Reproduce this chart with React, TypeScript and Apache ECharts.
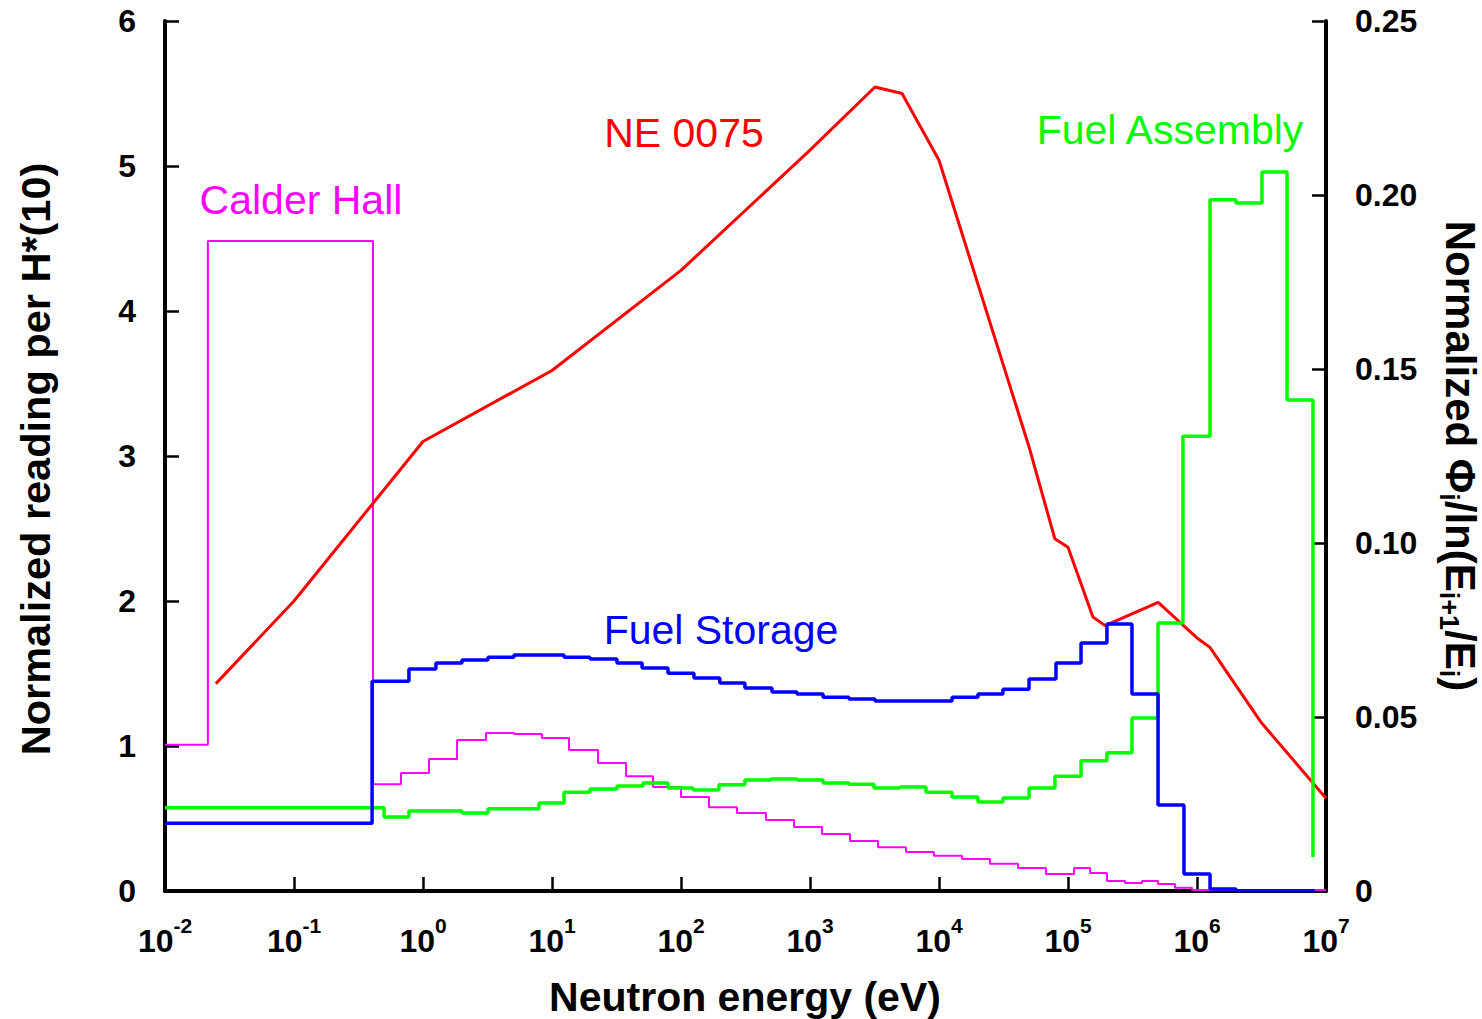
import React, { useEffect, useRef } from "react";
import * as echarts from "echarts";

const FONT = '"Liberation Sans", Arial, Helvetica, sans-serif';

// X axis: neutron energy (eV), log scale from 1e-2 to 1e7
const xMin = 0.01;
const xMax = 1e7;

// Left axis: Normalized reading per H*(10)
const leftTicks = { min: 0, max: 6, interval: 1 };
// Right axis: Normalized Phi_i / ln(E_i+1/E_i)
const rightTicks = { min: 0, max: 0.25, interval: 0.05 };

// NE 0075 response (left axis)
const ne0075Energy = [0.0248, 0.1, 1, 10, 100, 1000, 3190, 5170, 10000, 50000, 79000, 100000, 156000, 194000, 500000, 1000000, 1260000, 3160000, 10000000];
const ne0075Reading = [1.43, 2.0, 3.1, 3.59, 4.28, 5.11, 5.545, 5.5, 5.04, 3.06, 2.43, 2.37, 1.89, 1.83, 1.99, 1.745, 1.68, 1.16, 0.64];

// Calder Hall spectrum (right axis), group edges and values
const calderEdges = [0.01, 0.0215, 0.41, 0.675, 1.114, 1.837, 3.08, 5.07, 8.36, 13.55, 22.75, 37.5, 60.7, 100, 164.8, 271.6, 456, 752, 1239, 2042, 3365, 5546, 9141, 15070, 24830, 40930, 67450, 111400, 148300, 200400, 276700, 375000, 498900, 674500, 914100, 10000000];
const calderValues = [0.042, 0.1868, 0.0307, 0.0339, 0.0379, 0.0434, 0.0454, 0.0451, 0.044, 0.0405, 0.0368, 0.033, 0.0299, 0.027, 0.0241, 0.0224, 0.0204, 0.0184, 0.0164, 0.0144, 0.0126, 0.0112, 0.0101, 0.0092, 0.0078, 0.0066, 0.0049, 0.0066, 0.0052, 0.0029, 0.0023, 0.0029, 0.002, 0.0009, 0.0003];

// Fuel Storage spectrum (right axis)
const storageEdges = [0.01, 0.403, 0.778, 1.26, 2.005, 3.19, 5.07, 8.07, 12.4, 19.7, 31.9, 49.9, 79.3, 126, 200, 313, 507, 792, 1262, 2005, 3190, 4989, 7786, 12620, 20050, 31330, 49890, 80700, 126200, 200400, 313300, 498900, 792400, 1262000, 2005000, 8220000];
const storageValues = [0.0195, 0.0603, 0.0638, 0.0655, 0.0664, 0.0672, 0.0678, 0.0678, 0.0672, 0.0667, 0.0655, 0.0641, 0.0626, 0.0612, 0.0598, 0.0583, 0.0572, 0.0566, 0.0557, 0.0552, 0.0546, 0.0546, 0.0546, 0.0557, 0.0566, 0.058, 0.0609, 0.0655, 0.0713, 0.0767, 0.0566, 0.0247, 0.0049, 0.0006, 0.0001];

// Fuel Assembly spectrum (right axis)
const assemblyEdges = [0.01, 0.499, 0.778, 1.26, 2.005, 3.19, 5.07, 7.93, 12.4, 19.7, 31.9, 50.7, 79.3, 124, 197, 313, 499, 792, 1262, 2005, 3133, 4989, 7924, 12620, 20050, 31330, 49890, 79240, 126200, 200400, 313300, 498900, 778000, 1262000, 2005000, 3190000, 4989000, 7924000];
const assemblyValues = [0.0239, 0.0213, 0.023, 0.023, 0.0224, 0.0236, 0.0236, 0.0253, 0.0284, 0.0293, 0.0302, 0.031, 0.0296, 0.029, 0.0305, 0.0319, 0.0322, 0.0319, 0.031, 0.0307, 0.0296, 0.0299, 0.0284, 0.027, 0.0256, 0.0267, 0.0296, 0.033, 0.0374, 0.0397, 0.0497, 0.077, 0.1307, 0.1986, 0.1977, 0.2066, 0.1411];
const assemblyTail = 0.0098;

const COLORS = {
  ne: "#ff0000",
  calder: "#ff00ff",
  storage: "#0000ff",
  assembly: "#00ff00",
};

function histSteps(edges: number[], values: number[], tail?: number) {
  const pts: number[][] = [];
  for (let i = 0; i < values.length; i++) {
    pts.push([edges[i], values[i]]);
    pts.push([edges[i + 1], values[i]]);
  }
  if (tail !== undefined) pts.push([edges[values.length], tail]);
  return pts;
}

function buildOption() {
  const axisLineStyle = { color: "#000", width: 4 };
  const tickStyle = { color: "#000", width: 2.5 };
  const tickLabel = {
    fontSize: 32,
    fontWeight: "bold" as const,
    fontFamily: FONT,
    color: "#000",
  };
  const labelStyle = (text: string, color: string, x: number, y: number) => ({
    type: "text",
    x,
    y,
    style: {
      text,
      fill: color,
      fontSize: 41,
      fontFamily: FONT,
      textAlign: "center",
      textVerticalAlign: "middle",
      align: "center",
      verticalAlign: "middle",
    },
  });
  return {
    animation: false,
    backgroundColor: "#ffffff",
    textStyle: { fontFamily: FONT },
    grid: { left: 165, right: 156, top: 21, bottom: 128, containLabel: false },
    xAxis: {
      type: "log",
      logBase: 10,
      min: xMin,
      max: xMax,
      axisLine: { show: true, onZero: false, lineStyle: axisLineStyle },
      axisTick: { show: true, inside: true, length: 14, lineStyle: tickStyle },
      minorTick: { show: false },
      splitLine: { show: false },
      axisLabel: {
        margin: 24,
        showMinLabel: true,
        showMaxLabel: true,
        formatter: (v: number) => {
          const e = Math.round(Math.log10(v));
          return `{b|10}{s|${e}}`;
        },
        rich: {
          b: { ...tickLabel, fontSize: 32, lineHeight: 42, verticalAlign: "bottom" },
          s: { ...tickLabel, fontSize: 21, lineHeight: 21, verticalAlign: "top" },
        },
      },
    },
    yAxis: [
      {
        type: "value",
        position: "left",
        min: leftTicks.min,
        max: leftTicks.max,
        interval: leftTicks.interval,
        axisLine: { show: true, onZero: false, lineStyle: axisLineStyle },
        axisTick: { show: true, inside: true, length: 14, lineStyle: tickStyle },
        splitLine: { show: false },
        axisLabel: { ...tickLabel, margin: 29, formatter: (v: number) => String(v) },
      },
      {
        type: "value",
        position: "right",
        min: rightTicks.min,
        max: rightTicks.max,
        interval: rightTicks.interval,
        axisLine: { show: true, onZero: false, lineStyle: axisLineStyle },
        axisTick: { show: true, inside: true, length: 14, lineStyle: tickStyle },
        splitLine: { show: false },
        axisLabel: {
          ...tickLabel,
          margin: 29,
          formatter: (v: number) => (v === 0 ? "0" : v.toFixed(2)),
        },
      },
    ],
    series: [
      {
        name: "Calder Hall",
        type: "line",
        yAxisIndex: 1,
        showSymbol: false,
        symbol: "none",
        lineStyle: { color: COLORS.calder, width: 2 },
        data: histSteps(calderEdges, calderValues),
      },
      {
        name: "NE 0075",
        type: "line",
        yAxisIndex: 0,
        showSymbol: false,
        symbol: "none",
        lineStyle: { color: COLORS.ne, width: 3 },
        data: ne0075Energy.map((e, i) => [e, ne0075Reading[i]]),
      },
      {
        name: "Fuel Assembly",
        type: "line",
        yAxisIndex: 1,
        showSymbol: false,
        symbol: "none",
        lineStyle: { color: COLORS.assembly, width: 3.5 },
        data: histSteps(assemblyEdges, assemblyValues, assemblyTail),
      },
      {
        name: "Fuel Storage",
        type: "line",
        yAxisIndex: 1,
        showSymbol: false,
        symbol: "none",
        lineStyle: { color: COLORS.storage, width: 3.5 },
        data: histSteps(storageEdges, storageValues),
      },
    ],
    graphic: [
      labelStyle("NE 0075", COLORS.ne, 684, 133),
      labelStyle("Calder Hall", COLORS.calder, 301, 200),
      labelStyle("Fuel Storage", COLORS.storage, 721, 630),
      labelStyle("Fuel Assembly", COLORS.assembly, 1170, 130),
      {
        type: "text",
        x: 745,
        y: 997,
        style: { text: "Neutron energy (eV)", fill: "#000", fontSize: 41, fontWeight: "bold", fontFamily: FONT, textAlign: "center", textVerticalAlign: "middle", align: "center", verticalAlign: "middle" },
      },
      {
        type: "text",
        x: 35,
        y: 459,
        rotation: Math.PI / 2,
        style: { text: "Normalized reading per H*(10)", fill: "#000", fontSize: 41.5, fontWeight: "bold", fontFamily: FONT, textAlign: "center", textVerticalAlign: "middle", align: "center", verticalAlign: "middle" },
      },
      {
        type: "text",
        x: 1458,
        y: 456,
        rotation: -Math.PI / 2,
        style: {
          text: "{b|Normalized Φ}{s|i}{b|/ln(E}{s|i+1}{b|/E}{s|i}{b|)}",
          fill: "#000",
          fontSize: 42,
          fontWeight: "bold",
          fontFamily: FONT,
          textAlign: "center",
          textVerticalAlign: "middle",
          align: "center",
          verticalAlign: "middle",
          rich: {
            b: { fontSize: 42, fontWeight: "bold", fontFamily: FONT, fill: "#000", lineHeight: 46, verticalAlign: "top" },
            s: { fontSize: 27, fontWeight: "bold", fontFamily: FONT, fill: "#000", lineHeight: 27, verticalAlign: "bottom" },
          },
        },
      },
    ],
  };
}

export default function App() {
  const ref = useRef<HTMLDivElement>(null);
  useEffect(() => {
    if (!ref.current) return;
    const chart = echarts.init(ref.current, undefined, { renderer: "svg" });
    chart.setOption(buildOption() as any);
    return () => {
      chart.dispose();
    };
  }, []);
  return (
    <div
      ref={ref}
      style={{ position: "fixed", left: 0, top: 0, width: 1482, height: 1019, background: "#ffffff" }}
    />
  );
}
